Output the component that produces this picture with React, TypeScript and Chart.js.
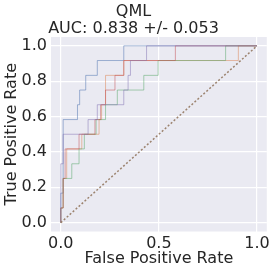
import React, { useEffect, useRef } from "react";
import { Chart, registerables } from "chart.js";

Chart.register(...registerables);

const titleLines = ["QML", "AUC: 0.838 +/- 0.053"];
const xTicks = [0, 0.5, 1.0];
const yTicks = [0, 0.2, 0.4, 0.6, 0.8, 1.0];

const fold0Fpr = [0, 0, 0.012, 0.012, 0.085, 0.085, 0.096, 0.096, 0.127, 0.127, 0.186, 0.186, 0.321, 0.321, 1];
const fold0Tpr = [0, 0.167, 0.167, 0.583, 0.583, 0.667, 0.667, 0.75, 0.75, 0.833, 0.833, 0.917, 0.917, 1, 1];

const fold1Fpr = [0, 0, 0.012, 0.012, 0.03, 0.03, 0.107, 0.107, 0.195, 0.195, 0.208, 0.208, 0.228, 0.228, 0.321, 0.321, 0.905, 0.905, 1];
const fold1Tpr = [0, 0.083, 0.083, 0.25, 0.25, 0.417, 0.417, 0.5, 0.5, 0.583, 0.583, 0.667, 0.667, 0.833, 0.833, 0.917, 0.917, 1, 1];

const fold2Fpr = [0, 0, 0.012, 0.012, 0.056, 0.056, 0.093, 0.093, 0.12, 0.12, 0.18, 0.18, 0.228, 0.228, 0.288, 0.288, 0.423, 0.423, 0.496, 0.496, 0.84, 0.84, 1];
const fold2Tpr = [0, 0.083, 0.083, 0.25, 0.25, 0.333, 0.333, 0.417, 0.417, 0.5, 0.5, 0.583, 0.583, 0.667, 0.667, 0.75, 0.75, 0.833, 0.833, 0.917, 0.917, 1, 1];

const fold3Fpr = [0, 0, 0.012, 0.012, 0.022, 0.022, 0.093, 0.093, 0.174, 0.174, 0.203, 0.203, 0.228, 0.228, 0.276, 0.276, 0.321, 0.321, 0.584, 0.584, 1];
const fold3Tpr = [0, 0.083, 0.083, 0.25, 0.25, 0.417, 0.417, 0.5, 0.5, 0.583, 0.583, 0.667, 0.667, 0.75, 0.75, 0.833, 0.833, 0.917, 0.917, 1, 1];

const fold4Fpr = [0, 0, 0.012, 0.012, 0.139, 0.139, 0.186, 0.186, 0.321, 0.321, 0.343, 0.343, 0.355, 0.355, 0.437, 0.437, 1];
const fold4Tpr = [0, 0.333, 0.333, 0.5, 0.5, 0.583, 0.583, 0.667, 0.667, 0.75, 0.75, 0.833, 0.833, 0.917, 0.917, 1, 1];

const chanceX = [0, 1];
const chanceY = [0, 1];

const foldColors = [
  "rgba(76,114,176,0.5)",
  "rgba(221,132,82,0.5)",
  "rgba(85,168,104,0.5)",
  "rgba(196,78,82,0.5)",
  "rgba(129,114,179,0.5)",
];

const folds = [
  [fold0Fpr, fold0Tpr],
  [fold1Fpr, fold1Tpr],
  [fold2Fpr, fold2Tpr],
  [fold3Fpr, fold3Tpr],
  [fold4Fpr, fold4Tpr],
];

const FONT = "'DejaVu Sans', sans-serif";

const bgPlugin = {
  id: "plotBg",
  beforeDraw(chart: any) {
    const { ctx, chartArea } = chart;
    ctx.save();
    ctx.fillStyle = "#EAEAF2";
    ctx.fillRect(chartArea.left, chartArea.top, chartArea.right - chartArea.left, chartArea.bottom - chartArea.top);
    ctx.restore();
  },
};

export default function App() {
  const ref = useRef<HTMLCanvasElement | null>(null);
  useEffect(() => {
    if (!ref.current) return;
    const datasets: any[] = folds.map(([fx, fy], i) => ({
      label: `ROC fold ${i}`,
      data: fx.map((x, k) => ({ x, y: fy[k] })),
      borderColor: foldColors[i],
      borderWidth: 1,
      pointRadius: 0,
      tension: 0,
      fill: false,
      order: 6 - i,
    }));
    datasets.push({
      label: "Chance",
      data: chanceX.map((x, k) => ({ x, y: chanceY[k] })),
      borderColor: "rgba(147,120,96,0.9)",
      borderWidth: 1.5,
      borderDash: [2, 2],
      pointRadius: 0,
      fill: false,
      order: 0,
    });
    const chart = new Chart(ref.current, {
      type: "line",
      data: { datasets },
      plugins: [bgPlugin],
      options: {
        animation: false,
        responsive: false,
        layout: { padding: { right: 6, left: 0, top: 0, bottom: 0 } },
        plugins: {
          legend: { display: false },
          tooltip: { enabled: false },
          title: {
            display: true,
            text: titleLines,
            color: "#262626",
            font: { family: FONT, size: 16, weight: "normal", lineHeight: 17 / 16 },
            padding: { top: 3, bottom: 0 },
          },
        },
        scales: {
          x: {
            type: "linear",
            min: -0.05,
            max: 1.05,
            afterBuildTicks: (axis: any) => {
              axis.ticks = xTicks.map((v) => ({ value: v }));
            },
            afterFit: (scale: any) => {
              scale.height = 41.5;
            },
            ticks: {
              color: "#262626",
              font: { family: FONT, size: 16 },
              padding: 3,
              maxRotation: 0,
              callback: (v: any) => Number(v).toFixed(1),
            },
            grid: { color: "#FFFFFF", lineWidth: 1.2, drawTicks: false },
            border: { display: false },
            title: {
              display: true,
              text: "False Positive Rate",
              color: "#262626",
              font: { family: FONT, size: 16 },
              padding: { top: 0, bottom: 5 },
            },
          },
          y: {
            type: "linear",
            min: -0.05,
            max: 1.05,
            afterBuildTicks: (axis: any) => {
              axis.ticks = yTicks.map((v) => ({ value: v }));
            },
            afterFit: (scale: any) => {
              scale.width = 51;
            },
            ticks: {
              color: "#262626",
              font: { family: FONT, size: 16 },
              padding: 4,
              callback: (v: any) => Number(v).toFixed(1),
            },
            grid: { color: "#FFFFFF", lineWidth: 1.2, drawTicks: false },
            border: { display: false },
            title: {
              display: true,
              text: "True Positive Rate",
              color: "#262626",
              font: { family: FONT, size: 16 },
              padding: { top: 2, bottom: 0 },
            },
          },
        },
      },
    });
    return () => chart.destroy();
  }, []);
  return (
    <div style={{ position: "fixed", left: 0, top: 0, width: 273, height: 273, background: "#FFFFFF" }}>
      <canvas ref={ref} width={273} height={273} style={{ display: "block", width: 273, height: 273 }} />
    </div>
  );
}
